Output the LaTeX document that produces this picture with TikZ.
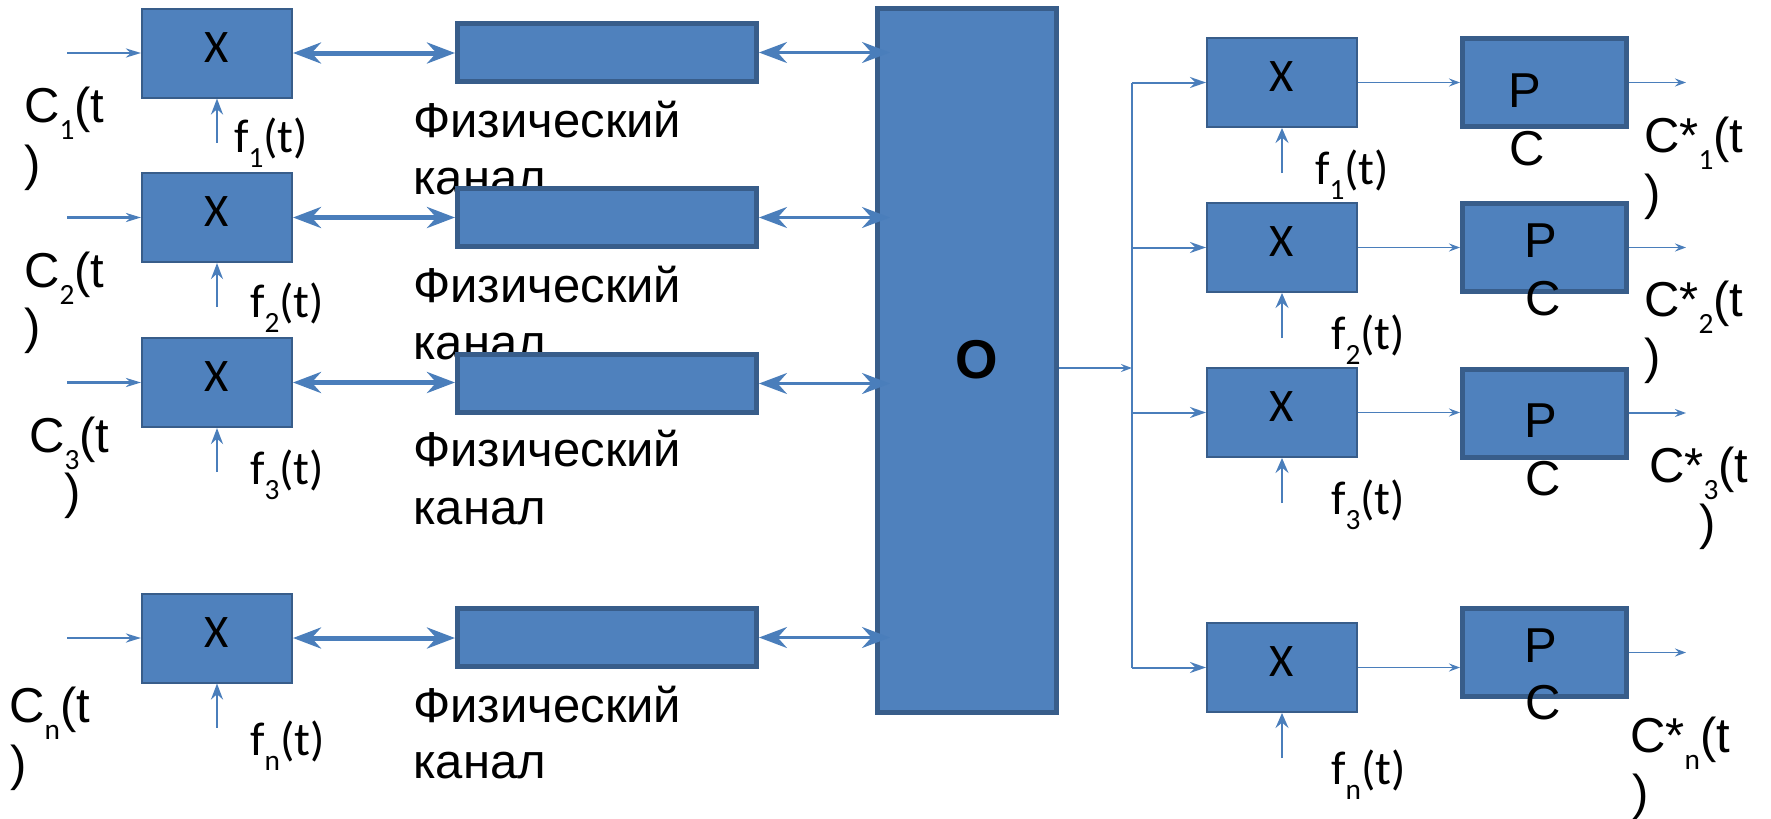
\documentclass[tikz,border=0pt]{standalone}
\usepackage{fontspec}
\setmainfont{Liberation Sans}
\newfontfamily\calfont{Carlito}
\usetikzlibrary{arrows.meta,calc}
\definecolor{bfill}{HTML}{4F81BD}
\definecolor{bdraw}{HTML}{385D8A}
\definecolor{aline}{HTML}{4A7EBB}
\newcommand\Asub[1]{\raisebox{-12.75pt}{\calfont\fontsize{22pt}{26pt}\selectfont #1}}
\newcommand\Fsub[1]{\raisebox{-11.25pt}{\calfont\fontsize{22pt}{26pt}\selectfont #1}}
\begin{document}
\begin{tikzpicture}[x=0.75pt,y=-0.75pt,
  xbox/.style={draw=bdraw,fill=bfill,line width=1.5pt,inner sep=0pt,
    minimum width=112.5pt,minimum height=66.75pt,
    font=\calfont\fontsize{35pt}{41pt}\selectfont,text height=22.5pt,text depth=8.3pt},
  thickbox/.style={draw=bdraw,fill=bfill,line width=3.75pt,inner sep=0pt},
  chbox/.style={thickbox,minimum width=224.25pt,minimum height=43.5pt},
  pbox/.style={thickbox,minimum width=123pt,minimum height=66pt},
  obox/.style={thickbox,minimum width=134.25pt,minimum height=528pt},
  lab/.style={inner sep=0pt,anchor=base west,font=\fontsize{36.75pt}{44pt}\selectfont},
  flab/.style={inner sep=0pt,anchor=base west,font=\calfont\fontsize{35.5pt}{42pt}\selectfont},
  olab/.style={inner sep=0pt,anchor=base,font=\bfseries\fontsize{41pt}{48pt}\selectfont},
  inarr/.style={draw=aline,line width=1.9pt,-{Stealth[length=11.25pt,width=6.75pt,inset=3.5pt]}},
  farr/.style={draw=aline,line width=1.9pt,-{Stealth[length=12pt,width=9pt,inset=4pt]}},
  biarr/.style={draw=aline,line width=3.75pt,{Stealth[length=21pt,width=15.75pt,inset=7pt]}-{Stealth[length=21pt,width=15.75pt,inset=7pt]}},
  charr/.style={draw=aline,line width=2.25pt,{Stealth[length=21pt,width=15.75pt,inset=7pt]}-{Stealth[length=21pt,width=15.75pt,inset=7pt]}},
  rfarr/.style={draw=aline,line width=1.5pt,-{Stealth[length=11.25pt,width=9.75pt,inset=4pt]}},
  busarr/.style={draw=aline,line width=1.5pt,-{Stealth[length=12pt,width=8.25pt,inset=4pt]}},
  smarr/.style={draw=aline,line width=1.4pt,-{Stealth[length=8.25pt,width=6pt,inset=3pt]}},
  busline/.style={draw=aline,line width=1.5pt}
]
\useasboundingbox (0,0) rectangle (1771,818);

% channel labels (under the channel boxes)
\node[lab] (ph1) at (413,137) {Физический};
\node[lab] (ka1) at (413,194) {канал};
\node[lab] (ph2) at (413,302) {Физический};
\node[lab] (ka2) at (413,359) {канал};
\node[lab] (ph3) at (413,466) {Физический};
\node[lab] (ka3) at (413,524) {канал};
\node[lab] (phn) at (413,722) {Физический};
\node[lab] (kan) at (413,778) {канал};

% left multipliers
\node[xbox] (x1) at (217,53) {X};
\node[xbox] (x2) at (217,217.5) {X};
\node[xbox] (x3) at (217,382.5) {X};
\node[xbox] (xn) at (217,638) {X};

% channels
\node[chbox] (ch1) at (607,52.5) {};
\node[chbox] (ch2) at (607,217.5) {};
\node[chbox] (ch3) at (607,383.5) {};
\node[chbox] (chn) at (607,637.5) {};

% O block
\node[obox] (o) at (967,360.5) {};
\node[olab] (ot) at (977,378) {O};

% right multipliers
\node[xbox] (rx1) at (1282,82.5) {X};
\node[xbox] (rx2) at (1282,247.5) {X};
\node[xbox] (rx3) at (1282,412.5) {X};
\node[xbox] (rxn) at (1282,667.5) {X};

% PC blocks
\node[pbox] (p1) at (1544.5,82.5) {};
\node[pbox] (p2) at (1544.5,247.5) {};
\node[pbox] (p3) at (1544.5,413) {};
\node[pbox] (pn) at (1544.5,652.5) {};
\node[lab] (p1a) at (1508,107) {P};
\node[lab] (p1b) at (1509,165) {C};
\node[lab] (p2a) at (1524,257) {P};
\node[lab] (p2b) at (1525,315) {C};
\node[lab] (p3a) at (1524,437) {P};
\node[lab] (p3b) at (1525,495) {C};
\node[lab] (pna) at (1524,662) {P};
\node[lab] (pnb) at (1525,719) {C};

% left input labels
\node[lab] (c1a) at (24,122) {C\Asub{1}(t};
\node[lab] (c1b) at (24,180) {)};
\node[lab] (c2a) at (24,287) {C\Asub{2}(t};
\node[lab] (c2b) at (24,343) {)};
\node[lab] (c3a) at (29,452) {C\Asub{3}(t};
\node[lab] (c3b) at (64,508) {)};
\node[lab] (cna) at (9,722) {C\Asub{n}(t};
\node[lab] (cnb) at (10,780) {)};

% left f labels
\node[flab] (f1) at (234,152) {f\Fsub{1}(t)};
\node[flab] (f2) at (250,317) {f\Fsub{2}(t)};
\node[flab] (f3) at (250,484) {f\Fsub{3}(t)};
\node[flab] (fn) at (250,755) {f\Fsub{n}(t)};

% right f labels
\node[flab] (rf1) at (1315,184) {f\Fsub{1}(t)};
\node[flab] (rf2) at (1331,349) {f\Fsub{2}(t)};
\node[flab] (rf3) at (1331,514) {f\Fsub{3}(t)};
\node[flab] (rfn) at (1331,784) {f\Fsub{n}(t)};

% output labels
\node[lab] (cs1a) at (1644,152) {C*\Asub{1}(t};
\node[lab] (cs1b) at (1644,209) {)};
\node[lab] (cs2a) at (1644,316) {C*\Asub{2}(t};
\node[lab] (cs2b) at (1644,373) {)};
\node[lab] (cs3a) at (1649,482) {C*\Asub{3}(t};
\node[lab] (cs3b) at (1699,539) {)};
\node[lab] (csna) at (1630,752) {C*\Asub{n}(t};
\node[lab] (csnb) at (1632,809) {)};

% left side connectors
\foreach \k in {1,2,3,n}{
  \draw[inarr] ($(x\k.west)+(-74,0)$) -- (x\k.west);
  \draw[farr] ($(x\k.south)+(0,44)$) -- (x\k.south);
  \draw[biarr] (x\k.east) -- (x\k.east -| ch\k.west);
  \draw[charr] (ch\k.east) -- ($(o.west |- ch\k.east)+(15,0)$);
}

% O to bus
\coordinate (bt) at (1132,82.5);
\coordinate (bb) at (1132,667.5);
\coordinate (bm) at (1132,368);
\draw[busline] (bt) -- (bb);
\draw[smarr] (o.east |- bm) -- (bm);

% right side connectors
\foreach \k in {1,2,3,n}{
  \draw[busarr] (bt |- rx\k.west) -- (rx\k.west);
  \draw[rfarr] ($(rx\k.south)+(0,45)$) -- (rx\k.south);
  \draw[smarr] (rx\k.east) -- (rx\k.east -| p\k.west);
  \draw[smarr] (p\k.east) -- ($(p\k.east)+(57,0)$);
}
\end{tikzpicture}
\end{document}
